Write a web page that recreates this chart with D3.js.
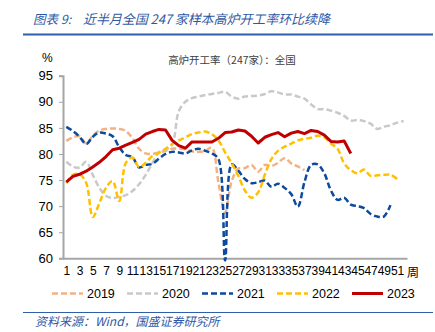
<!DOCTYPE html>
<html><head><meta charset="utf-8">
<script src="https://cdn.jsdelivr.net/npm/d3@7"></script>
<style>
html,body{margin:0;padding:0;background:#fff;}
svg{display:block;}
</style></head>
<body>
<script>
const weeks = [1,2,3,4,5,6,7,8,9,10,11,12,13,14,15,16,17,18,19,20,21,22,23,24,25,26,27,28,29,30,31,32,33,34,35,36,37,38,39,40,41,42,43,44,45,46,47,48,49,50,51,52];
const weekTicks = [1,3,5,7,9,11,13,15,17,19,21,23,25,27,29,31,33,35,37,39,41,43,45,47,49,51];
const yTicks = [60,65,70,75,80,85,90,95];

const s2019 = [82.5,83.2,83.4,82.0,83.5,84.5,84.8,84.9,84.8,84.4,
  83.0,81.0,80.1,80.0,80.3,80.6,81.0,81.0,80.9,80.5,
  80.4,80.6,81.2,74.5,68.7,74.8,77.2,77.3,77.9,76.6,
  77.9,77.7,78.3,79.2,78.2,77.6,76.9];
const s2020 = [78.5,77.6,77.4,78.5,76.0,73.5,72.0,71.5,71.8,72.1,
  72.9,74.2,76.0,78.2,80.3,80.8,81.8,88.2,90.0,90.7,
  91.0,91.3,91.5,91.7,91.9,91.0,90.6,91.0,91.1,91.2,
  91.5,92.0,91.8,91.4,91.4,91.0,90.6,89.5,88.6,88.6,
  88.3,87.9,87.3,86.4,86.5,86.3,85.8,84.8,85.2,85.5,
  86.0,86.3];
const s2021 = [85.2,84.4,83.3,81.9,83.3,84.1,83.9,83.4,81.3,79.8,
  79.4,77.4,77.9,78.1,79.1,80.0,80.4,80.3,80.1,80.7,
  81.0,80.6,80.1,79.0,59.6,78.0,76.8,75.2,74.4,74.6,
  74.9,73.7,74.3,73.5,72.3,69.9,74.6,77.9,78.0,76.3,
  73.0,71.2,71.6,70.3,70.0,69.6,68.5,68.0,68.0,70.2];
const s2022 = [74.4,76.0,76.1,74.5,67.9,70.6,73.5,74.8,71.0,78.3,
  79.3,77.5,78.3,79.6,80.2,81.0,81.9,82.6,83.2,83.8,
  84.1,84.3,83.8,82.6,80.3,78.2,75.8,73.0,71.6,72.6,
  76.0,79.0,80.6,81.4,82.0,82.6,82.9,83.1,83.5,83.2,
  82.0,81.0,78.2,76.9,76.3,77.0,75.8,75.9,76.0,76.0,75.2];
const s2023 = [74.6,75.7,76.1,76.7,77.5,78.4,79.5,80.8,81.1,81.7,
  82.2,82.8,83.8,84.3,84.7,84.6,82.6,81.6,81.1,82.3,
  82.3,82.3,82.3,83.0,84.1,84.2,84.6,84.4,83.4,82.1,
  83.2,83.7,84.1,83.3,84.0,84.3,83.9,84.5,84.3,83.6,
  82.4,82.3,82.5,80.1];

const seriesNames = ["2019","2020","2021","2022","2023"];
const seriesValues = [s2019,s2020,s2021,s2022,s2023];
const seriesColors = ["#f4b183","#c9c9c9","#0b4a9e","#ffc000","#c00000"];
const seriesDashed = [true,true,true,true,false];

const W = 435, H = 332;
const svg = d3.select("body").append("svg").attr("width",W).attr("height",H)
  .style("font-family","'Liberation Sans', Arial, sans-serif");
svg.append("rect").attr("width",W).attr("height",H).attr("fill","#fff");

const cjk = "'Noto Sans CJK SC', sans-serif";
const blue = "#2f58a3";

// Title
svg.append("text").attr("x",33).attr("y",24)
  .attr("font-family",cjk).attr("font-size",12.5).attr("font-style","italic")
  .style("white-space","pre")
  .attr("fill",blue).text("图表 9:");
svg.append("text").attr("x",83).attr("y",24)
  .attr("font-family",cjk).attr("font-size",13).attr("font-style","italic")
  .attr("textLength",247).attr("lengthAdjust","spacing")
  .attr("fill",blue).text("近半月全国 247 家样本高炉开工率环比续降");
svg.append("line").attr("x1",23).attr("x2",433).attr("y1",34.5).attr("y2",34.5)
  .attr("stroke","#2e5fa8").attr("stroke-width",2);

// Footer
svg.append("line").attr("x1",23).attr("x2",433).attr("y1",312.5).attr("y2",312.5)
  .attr("stroke","#2e5fa8").attr("stroke-width",1);
svg.append("text").attr("x",35).attr("y",326)
  .attr("font-family",cjk).attr("font-size",12).attr("font-style","italic")
  .attr("fill",blue).text("资料来源：Wind，国盛证券研究所");

// Scales
const x = d3.scalePoint().domain(weeks).range([63,407]).padding(0.5);
const y = d3.scaleLinear().domain([60,95]).range([258.3,75.7]);

// Unit & subtitle
svg.append("text").attr("x",42).attr("y",62).attr("font-size",12).attr("fill","#000").text("%");
svg.append("text").attr("x",232).attr("y",64).attr("text-anchor","middle")
  .attr("font-family",cjk).attr("font-size",10.5).attr("fill","#404040")
  .text("高炉开工率（247家）：全国");

// Y axis
const gy = svg.append("g").attr("transform","translate(63,0)")
  .call(d3.axisLeft(y).tickValues(yTicks).tickSize(4).tickPadding(6).tickFormat(d3.format("d")));
gy.select(".domain").attr("stroke","#a6a6a6").attr("stroke-width",2);
gy.selectAll(".tick line").attr("stroke","#a6a6a6").attr("stroke-width",1);
gy.selectAll(".tick text").attr("font-size",13).attr("fill","#000")
  .attr("font-family","'Liberation Sans', Arial, sans-serif");

// X axis
const gx = svg.append("g").attr("transform","translate(0,258.3)")
  .call(d3.axisBottom(x).tickValues(weekTicks).tickSize(0).tickPadding(8));
gx.select(".domain").attr("stroke","#a6a6a6").attr("stroke-width",2);
gx.selectAll(".tick text").attr("font-size",12).attr("fill","#000")
  .attr("font-family","'Liberation Sans', Arial, sans-serif");
svg.append("text").attr("x",407).attr("y",277).attr("font-family",cjk)
  .attr("font-size",12).attr("fill","#000").text("周");

// Lines
seriesValues.forEach((vals,i)=>{
  const line = d3.line()
    .x((d,j)=>x(weeks[j]))
    .y(d=>y(d))
    .curve(seriesDashed[i] ? d3.curveCatmullRom.alpha(0.5) : d3.curveLinear);
  svg.append("path").datum(vals).attr("d",line)
    .attr("fill","none").attr("stroke",seriesColors[i])
    .attr("stroke-width", seriesDashed[i] ? 2.5 : 3)
    .attr("stroke-dasharray", seriesDashed[i] ? "6,3" : null)
    .attr("stroke-linejoin","round");
});

// Legend
const lg = svg.append("g");
seriesNames.forEach((n,i)=>{
  const x0 = 52 + i*75;
  lg.append("line").attr("x1",x0).attr("x2",x0+31).attr("y1",293.5).attr("y2",293.5)
    .attr("stroke",seriesColors[i]).attr("stroke-width",seriesDashed[i]?2.5:3)
    .attr("stroke-dasharray",seriesDashed[i]?"6,3":null);
  lg.append("text").attr("x",x0+35).attr("y",298).attr("font-size",12.5)
    .attr("fill","#000").text(n);
});
</script>
</body></html>
